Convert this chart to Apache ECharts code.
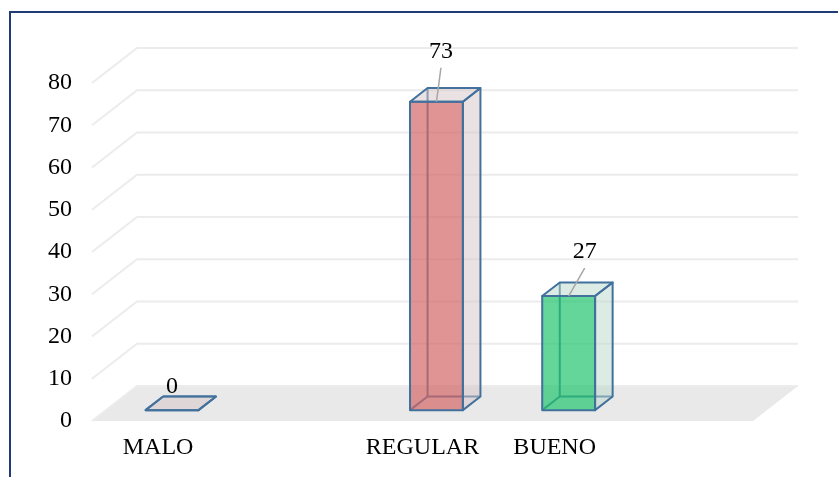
<!DOCTYPE html>
<html>
<head>
<meta charset="utf-8">
<script src="https://cdn.jsdelivr.net/npm/echarts@6/dist/echarts.min.js"></script>
<style>
  html, body { margin: 0; padding: 0; background: #ffffff; }
  #chart { width: 838px; height: 477px; }
</style>
</head>
<body>
<div id="chart"></div>
<script>
// Categories along the floor (empty slots keep the spacing of the groups)
const categories = ['MALO', '', 'REGULAR', 'BUENO', ''];
// Count per category
const values = [0, null, 73, 27, null];
// Value axis ticks
const yMin = 0;
const yMax = 80;
const yStep = 10;

// Face colours per category: [front, side/top]
const faceColors = {
  MALO: ['#D36666', '#D5C3C7'],
  REGULAR: ['#D36666', '#D5C3C7'],
  BUENO: ['#24C46D', '#BBD7CB']
};
// Value label offsets from the front-top centre of each box
const labelShift = {
  MALO: [0, -23],
  REGULAR: [4.5, -50],
  BUENO: [16, -44]
};

const DEPTH = [45, -35];      // full floor depth vector in px
const BAR_FRONT = 0.31;       // box front plane as fraction of depth
const BAR_BACK = 0.70;        // box back plane as fraction of depth
const BAR_WIDTH = 0.40;       // fraction of category band
const EDGE = '#41719C';
const SERIF = '"Liberation Serif", "Times New Roman", serif';
const FONT_SIZE = 24;

const gridValues = [];
for (let v = yMin; v <= yMax; v += yStep) gridValues.push(v);

const chart = echarts.init(document.getElementById('chart'), null, { renderer: 'canvas' });

function floorItem(params, api) {
  const cs = params.coordSys;
  const y0 = api.coord([0, 0])[1];
  const xl = cs.x, xr = cs.x + cs.width;
  return {
    type: 'polygon',
    shape: { points: [[xl, y0], [xr, y0], [xr + DEPTH[0], y0 + DEPTH[1]], [xl + DEPTH[0], y0 + DEPTH[1]]] },
    style: { fill: '#E9E9E9', stroke: null }
  };
}

function gridItem(params, api) {
  const cs = params.coordSys;
  const y = api.coord([0, api.value(1)])[1];
  const xl = cs.x, xr = cs.x + cs.width;
  return {
    type: 'polyline',
    shape: { points: [[xl, y], [xl + DEPTH[0], y + DEPTH[1]], [xr + DEPTH[0], y + DEPTH[1]]] },
    style: { stroke: '#ECECEC', lineWidth: 2, fill: null }
  };
}

function boxItem(params, api) {
  const idx = api.value(0);
  const val = api.value(1);
  const name = categories[idx];
  const [cx, yt] = api.coord([idx, val]);
  const yb = api.coord([idx, 0])[1];
  const band = api.size([1, 0])[0];
  const bw = band * BAR_WIDTH;
  const x0 = cx - bw / 2, x1 = cx + bw / 2;
  const f = [DEPTH[0] * BAR_FRONT, DEPTH[1] * BAR_FRONT];
  const b = [DEPTH[0] * BAR_BACK, DEPTH[1] * BAR_BACK];
  const P = (x, y, o) => [x + o[0], y + o[1]];
  const cols = faceColors[name];
  const edge = { stroke: EDGE, lineWidth: 2, lineJoin: 'round' };

  const children = [];
  // hidden edges, seen through the translucent faces
  children.push({ type: 'polyline', shape: { points: [P(x0, yt, b), P(x0, yb, b), P(x1, yb, b)] }, style: Object.assign({ fill: null }, edge) });
  children.push({ type: 'line', shape: { x1: P(x0, yb, f)[0], y1: P(x0, yb, f)[1], x2: P(x0, yb, b)[0], y2: P(x0, yb, b)[1] }, style: edge });
  // right side face
  children.push({ type: 'polygon', shape: { points: [P(x1, yb, f), P(x1, yb, b), P(x1, yt, b), P(x1, yt, f)] }, style: { fill: cols[1], opacity: 0.5 } });
  // top face
  children.push({ type: 'polygon', shape: { points: [P(x0, yt, f), P(x1, yt, f), P(x1, yt, b), P(x0, yt, b)] }, style: { fill: cols[1], opacity: 0.5 } });
  // front face
  children.push({ type: 'polygon', shape: { points: [P(x0, yb, f), P(x1, yb, f), P(x1, yt, f), P(x0, yt, f)] }, style: { fill: cols[0], opacity: 0.7 } });
  // solid outlines of the visible faces
  [2, 3, 4].forEach(k => {
    children.push({ type: 'polygon', shape: children[k].shape, style: Object.assign({ fill: null }, edge) });
  });

  // value label with leader line
  const ax = cx + f[0], ay = yt + f[1];
  const sh = labelShift[name];
  const lx = ax + sh[0], ly = ay + sh[1];
  if (Math.hypot(sh[0], sh[1]) > 30) {
    children.push({ type: 'line', shape: { x1: lx, y1: ly + 16, x2: ax, y2: ay }, style: { stroke: '#A6A6A6', lineWidth: 1.5 } });
  }
  children.push({
    type: 'text',
    style: { text: String(val), x: lx, y: ly, fill: '#000000', font: FONT_SIZE + 'px ' + SERIF, align: 'center', verticalAlign: 'middle' }
  });
  return { type: 'group', children: children };
}

const boxData = [];
values.forEach((v, i) => { if (v !== null) boxData.push([i, v]); });

chart.setOption({
  animation: false,
  backgroundColor: '#ffffff',
  grid: { left: 92, right: 85, top: 83, bottom: 56, containLabel: false },
  xAxis: {
    type: 'category',
    data: categories,
    axisLine: { show: false },
    axisTick: { show: false },
    splitLine: { show: false },
    axisLabel: { color: '#000000', fontFamily: SERIF, fontSize: FONT_SIZE, margin: 15, interval: 0 }
  },
  yAxis: {
    type: 'value',
    min: yMin,
    max: yMax,
    interval: yStep,
    axisLine: { show: false },
    axisTick: { show: false },
    splitLine: { show: false },
    axisLabel: { color: '#000000', fontFamily: SERIF, fontSize: FONT_SIZE, margin: 20 }
  },
  graphic: [{
    type: 'rect',
    shape: { x: 10, y: 12, width: 900, height: 600 },
    style: { fill: null, stroke: '#1F3B78', lineWidth: 2 },
    silent: true,
    z: 100
  }],
  series: [
    { type: 'custom', renderItem: floorItem, data: [[0, 0]], z: 1, silent: true },
    { type: 'custom', renderItem: gridItem, data: gridValues.map(v => [0, v]), z: 2, silent: true },
    { type: 'custom', renderItem: boxItem, data: boxData, z: 3, silent: true }
  ]
});
</script>
</body>
</html>
